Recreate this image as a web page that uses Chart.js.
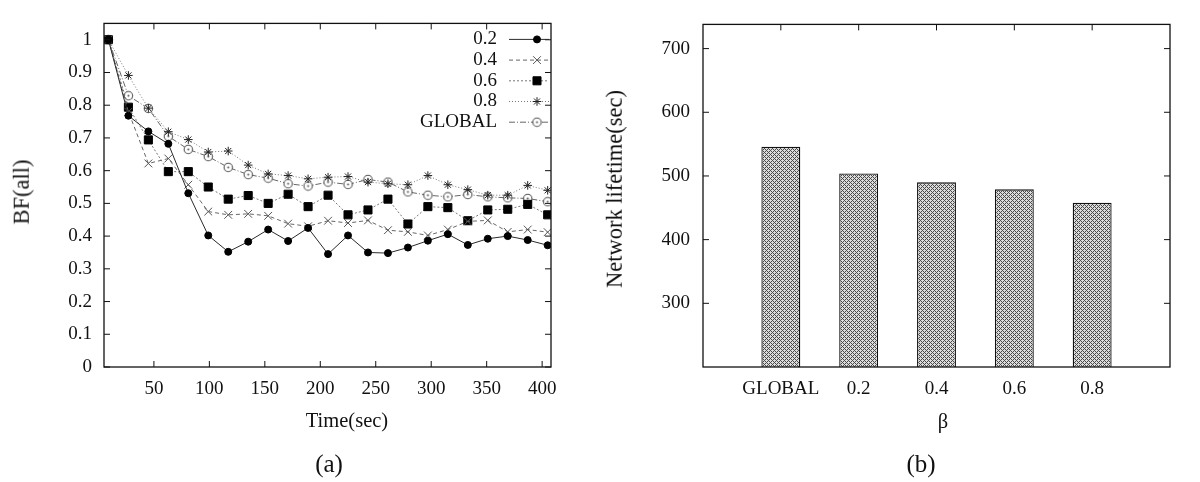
<!DOCTYPE html>
<html><head><meta charset="utf-8">
<script src="https://cdn.jsdelivr.net/npm/chart.js@4.4.0/dist/chart.umd.min.js"></script>
<style>
body{margin:0;background:#fff;width:1200px;height:482px;overflow:hidden;position:relative;font-family:"Liberation Serif","DejaVu Serif",serif;color:#111}
canvas{position:absolute;top:0}
.t{position:absolute;white-space:nowrap;font-size:20.5px;line-height:1;transform:translate(-50%,-50%)}
.r{transform:translate(-50%,-50%) rotate(-90deg);font-size:22.5px}
.big{font-size:25px}
</style></head><body>
<canvas id="c1" width="600" height="482" style="left:0"></canvas>
<canvas id="c2" width="600" height="482" style="left:600px"></canvas>
<div class="t r" style="left:22px;top:192px">BF(all)</div>
<div class="t" style="left:347px;top:420px">Time(sec)</div>
<div class="t big" style="left:329px;top:463px">(a)</div>
<div class="t r" style="left:615px;top:189px">Network lifetime(sec)</div>
<div class="t" style="left:943px;top:421px">β</div>
<div class="t big" style="left:921px;top:463px">(b)</div>
<script>
// ---- data (a) ----
const times = [9,27,45,63,81,99,117,135,153,171,189,207,225,243,261,279,297,315,333,351,369,387,405];
const bf02 = [1.0,0.768,0.72,0.682,0.531,0.402,0.352,0.383,0.42,0.385,0.425,0.345,0.402,0.35,0.348,0.365,0.386,0.406,0.373,0.392,0.40,0.388,0.372];
const bf04 = [1.0,0.78,0.622,0.637,0.557,0.475,0.465,0.468,0.462,0.438,0.43,0.447,0.44,0.448,0.418,0.413,0.402,0.42,0.445,0.448,0.413,0.42,0.412];
const bf06 = [1.0,0.794,0.694,0.597,0.597,0.55,0.513,0.524,0.50,0.528,0.49,0.525,0.465,0.48,0.513,0.437,0.49,0.487,0.447,0.48,0.482,0.497,0.465];
const bf08 = [1.0,0.891,0.791,0.719,0.695,0.657,0.66,0.617,0.59,0.585,0.575,0.58,0.582,0.565,0.56,0.557,0.585,0.557,0.542,0.525,0.525,0.555,0.54];
const bfGlobal = [1.0,0.829,0.79,0.705,0.665,0.643,0.61,0.588,0.577,0.56,0.553,0.565,0.558,0.573,0.565,0.535,0.525,0.52,0.527,0.52,0.517,0.515,0.505];
const seriesNames = ['0.2','0.4','0.6','0.8','GLOBAL'];
const timeTicks = [50,100,150,200,250,300,350,400];
const bfTicks = [0,0.1,0.2,0.3,0.4,0.5,0.6,0.7,0.8,0.9,1];
// ---- data (b) ----
const betaCats = ['GLOBAL','0.2','0.4','0.6','0.8'];
const lifetime = [546,504,490,479,458];
const lifeTicks = [300,400,500,600,700];

const FONT = {family:'"Liberation Serif","DejaVu Serif",serif', size:19};
const INK = '#111';

function ringDot(){
  const c=document.createElement('canvas'); c.width=11; c.height=11;
  const g=c.getContext('2d');
  g.strokeStyle='#555'; g.lineWidth=1.1; g.fillStyle='#fff';
  g.beginPath(); g.arc(5.5,5.5,4.2,0,Math.PI*2); g.fill(); g.stroke();
  g.fillStyle='#555'; g.beginPath(); g.arc(5.5,5.5,1,0,Math.PI*2); g.fill();
  return c;
}
function hatchPattern(ctx){
  const c=document.createElement('canvas'); c.width=4; c.height=4;
  const g=c.getContext('2d');
  g.fillStyle='#dcdcdc'; g.fillRect(0,0,4,4);
  g.fillStyle='#4a4a4a';
  for(let x=0;x<4;x++)for(let y=0;y<4;y++){
    if((x+y)%4===0||((x-y)+4)%4===0) g.fillRect(x,y,1,1);
  }
  return ctx.createPattern(c,'repeat');
}

const framePlugin = {
  id:'frame',
  afterDatasetsDraw(chart, args, opts){
    const {ctx, chartArea:a, scales} = chart;
    ctx.save();
    ctx.strokeStyle=INK; ctx.lineWidth=1.3; ctx.setLineDash([]);
    ctx.strokeRect(a.left, a.top, a.right-a.left, a.bottom-a.top);
    const L=6;
    ctx.lineWidth=1;
    ctx.beginPath();
    (opts.xTicks||[]).forEach(v=>{
      const px=scales.x.getPixelForValue(v);
      if(opts.xBottom!==false){ctx.moveTo(px,a.bottom);ctx.lineTo(px,a.bottom-L);}
      ctx.moveTo(px,a.top);ctx.lineTo(px,a.top+L);
    });
    (opts.yTicks||[]).forEach(v=>{
      const py=scales.y.getPixelForValue(v);
      ctx.moveTo(a.left,py);ctx.lineTo(a.left+L,py);
      ctx.moveTo(a.right,py);ctx.lineTo(a.right-L,py);
    });
    ctx.stroke(); ctx.restore();
  }
};

const keyPlugin = {
  id:'key',
  afterDatasetsDraw(chart){
    const ctx=chart.ctx, a=chart.chartArea;
    ctx.save();
    chart.data.datasets.forEach((ds,i)=>{
      const y = a.top + 16 + i*20.7;
      ctx.font='19px "Liberation Serif","DejaVu Serif",serif';
      ctx.textAlign='right'; ctx.textBaseline='middle'; ctx.fillStyle=INK;
      ctx.fillText(ds.label, a.left + 393, y);
      ctx.strokeStyle=ds.borderColor; ctx.lineWidth=ds.borderWidth; ctx.setLineDash(ds.borderDash||[]);
      ctx.beginPath(); ctx.moveTo(a.left+405,y); ctx.lineTo(a.right-2,y); ctx.stroke();
      ctx.setLineDash([]);
      ctx.fillStyle=ds.pointBackgroundColor; ctx.strokeStyle=ds.pointBorderColor; ctx.lineWidth=ds.pointBorderWidth||1;
      Chart.helpers.drawPoint(ctx,{pointStyle:ds.pointStyle,radius:ds.pointRadius,borderWidth:ds.pointBorderWidth||1,rotation:0}, a.left+433, y);
    });
    ctx.restore();
  }
};

const ring = ringDot();
function mk(label, vals, o){
  return Object.assign({
    label, data: times.map((t,i)=>({x:t,y:vals[i]})),
    borderWidth:1, pointBorderWidth:1, tension:0, fill:false
  }, o);
}
const ds = [
  mk(seriesNames[0], bf02, {borderColor:'#2a2a2a', pointStyle:'circle', pointRadius:3.5, pointBackgroundColor:'#000', pointBorderColor:'#000'}),
  mk(seriesNames[1], bf04, {borderColor:'#666', borderDash:[4,3], pointStyle:'crossRot', pointRadius:5.5, pointBackgroundColor:'#555', pointBorderColor:'#555'}),
  mk(seriesNames[2], bf06, {borderColor:'#777', borderDash:[2,2], pointStyle:'rect', pointRadius:5.7, pointBackgroundColor:'#000', pointBorderColor:'#000'}),
  mk(seriesNames[3], bf08, {borderColor:'#777', borderDash:[1,2], pointStyle:'star', pointRadius:4.3, pointBackgroundColor:'#222', pointBorderColor:'#222'}),
  mk(seriesNames[4], bfGlobal, {borderColor:'#666', borderDash:[6,2,1,2], pointStyle:ring, pointRadius:5, pointBackgroundColor:'#fff', pointBorderColor:'#555'})
];

new Chart(document.getElementById('c1'), {
  type:'line',
  data:{datasets:ds},
  plugins:[framePlugin,keyPlugin],
  options:{
    responsive:false, animation:false, devicePixelRatio:1,
    layout:{padding:{left:0,top:17,right:49,bottom:0}},
    plugins:{legend:{display:false}, tooltip:{enabled:false}, frame:{xTicks:timeTicks,yTicks:bfTicks}},
    scales:{
      x:{type:'linear',min:5,max:408,
        grid:{display:false,drawTicks:false}, border:{display:false},
        afterBuildTicks:s=>{s.ticks=timeTicks.map(v=>({value:v}));},
        afterFit:s=>{s.height=115;},
        ticks:{padding:11,font:FONT,color:INK,maxRotation:0,autoSkip:false,callback:v=>String(v)}},
      y:{type:'linear',min:0,max:1.05,
        grid:{display:false,drawTicks:false}, border:{display:false},
        afterBuildTicks:s=>{s.ticks=bfTicks.map(v=>({value:v}));},
        afterFit:s=>{s.width=104;},
        ticks:{padding:12,font:FONT,color:INK,autoSkip:false,callback:v=>String(v)}}
    }
  }
});

const c2 = document.getElementById('c2');
const pat = hatchPattern(c2.getContext('2d'));
new Chart(c2, {
  type:'bar',
  data:{datasets:[{
    label:'lifetime',
    data: betaCats.map((c,i)=>({x:i+1,y:lifetime[i]})),
    backgroundColor:pat, borderColor:'#111', borderWidth:1.3,
    barPercentage:0.5, categoryPercentage:1, base:200
  }]},
  plugins:[framePlugin],
  options:{
    responsive:false, animation:false, devicePixelRatio:1,
    layout:{padding:{left:0,top:17,right:30,bottom:0}},
    plugins:{legend:{display:false}, tooltip:{enabled:false}, frame:{xTicks:betaCats.map((c,i)=>i+1), xBottom:false, yTicks:lifeTicks}},
    scales:{
      x:{type:'linear',min:0,max:betaCats.length+1,offset:false,
        grid:{display:false,drawTicks:false,offset:false}, border:{display:false},
        afterBuildTicks:s=>{s.ticks=betaCats.map((c,i)=>({value:i+1}));},
        afterFit:s=>{s.height=115;},
        ticks:{padding:11,font:FONT,color:INK,maxRotation:0,autoSkip:false,callback:v=>betaCats[v-1]}},
      y:{type:'linear',min:200,max:738,
        grid:{display:false,drawTicks:false}, border:{display:false},
        afterBuildTicks:s=>{s.ticks=lifeTicks.map(v=>({value:v}));},
        afterFit:s=>{s.width=103;},
        ticks:{padding:13,font:FONT,color:INK,autoSkip:false,callback:v=>String(v)}}
    }
  }
});
</script>
</body></html>
